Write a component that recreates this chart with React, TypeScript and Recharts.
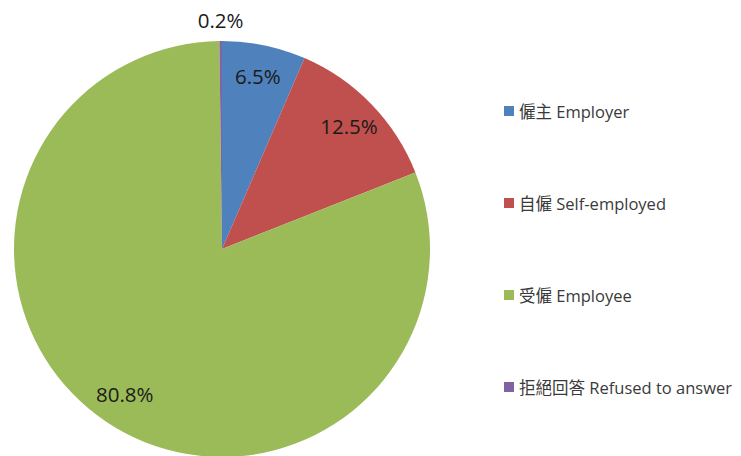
import React from "react";
import { PieChart, Pie, Cell, Legend } from "recharts";

const categories = ["僱主 Employer", "自僱 Self-employed", "受僱 Employee", "拒絕回答 Refused to answer"];
const values = [6.5, 12.5, 80.8, 0.2];
const colors = ["#4F81BD", "#C0504D", "#9BBB59", "#8064A2"];

const data = categories.map((name, i) => ({ name, value: values[i] }));

const RAD = Math.PI / 180;

const renderLabel = (props: any) => {
  const { cx, cy, midAngle, outerRadius, value } = props;
  const r = value < 1 ? outerRadius + 21 : outerRadius * (value > 50 ? 0.84 : 0.85);
  const x = cx + r * Math.cos(-midAngle * RAD);
  const y = cy + r * Math.sin(-midAngle * RAD);
  return (
    <text
      x={x}
      y={y}
      textAnchor="middle"
      dominantBaseline="central"
      fill="#1a1a1a"
      fontSize={20.5}
      fontFamily="'Open Sans', 'Noto Sans', sans-serif"
    >
      {`${value.toFixed(1)}%`}
    </text>
  );
};

const renderLegend = () => {
  return (
    <div>
      {categories.map((name, i) => (
        <div
          key={name}
          style={{
            display: "flex",
            alignItems: "center",
            height: 92,
            fontFamily: "'Open Sans', 'Noto Sans CJK TC', sans-serif",
            fontSize: 16.5,
            color: "#3a3a3a",
            whiteSpace: "nowrap",
          }}
        >
          <span
            style={{
              display: "inline-block",
              width: 10,
              height: 10,
              background: colors[i],
              marginRight: 5,
            }}
          />
          <span>{name}</span>
        </div>
      ))}
    </div>
  );
};

export default function App() {
  return (
    <div style={{ position: "absolute", left: 0, top: 0, background: "#fff" }}>
      <PieChart width={741} height={456} margin={{ top: 0, right: 0, bottom: 0, left: 0 }}>
        <Pie
          data={data}
          dataKey="value"
          nameKey="name"
          cx={222}
          cy={249}
          outerRadius={208}
          startAngle={90}
          endAngle={-270}
          stroke="none"
          label={renderLabel}
          labelLine={false}
          isAnimationActive={false}
        >
          {data.map((d, i) => (
            <Cell key={d.name} fill={colors[i]} />
          ))}
        </Pie>
        <Legend
          layout="vertical"
          align="right"
          verticalAlign="middle"
          content={renderLegend}
          wrapperStyle={{ left: 504, top: 65, width: 237 }}
        />
      </PieChart>
    </div>
  );
}
